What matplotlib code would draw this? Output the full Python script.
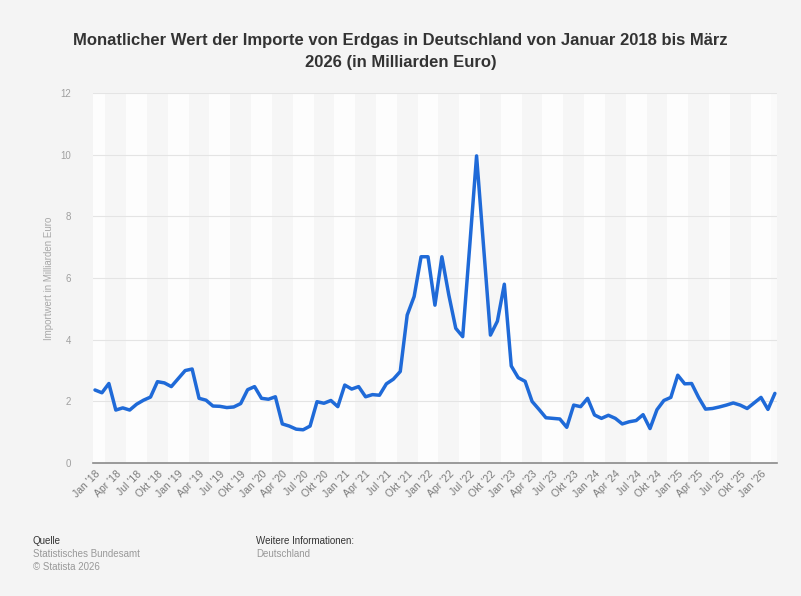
import matplotlib
matplotlib.use('Agg')
import matplotlib.pyplot as plt
import numpy as np

plt.rcParams['font.family'] = ['Liberation Sans', 'DejaVu Sans']

# ── Data: monthly import value of natural gas, Jan 2018 - Mar 2026 (bn EUR)
MONTHS = ["Jan", "Feb", "Mär", "Apr", "Mai", "Jun", "Jul", "Aug", "Sep", "Okt", "Nov", "Dez"]
YEARS = list(range(2018, 2027))
VALUES = [
    2.37, 2.28, 2.58, 1.72, 1.79, 1.72, 1.91, 2.04, 2.14, 2.64,
    2.60, 2.48, 2.74, 3.00, 3.05, 2.10, 2.04, 1.85, 1.84, 1.80,
    1.82, 1.93, 2.38, 2.48, 2.10, 2.07, 2.15, 1.27, 1.20, 1.10,
    1.08, 1.20, 1.99, 1.94, 2.03, 1.83, 2.53, 2.40, 2.48, 2.15,
    2.22, 2.20, 2.57, 2.72, 2.97, 4.80, 5.40, 6.69, 6.69, 5.12,
    6.69, 5.45, 4.37, 4.10, 7.00, 9.96, 7.05, 4.15, 4.60, 5.80,
    3.15, 2.77, 2.65, 2.00, 1.74, 1.47, 1.45, 1.43, 1.16, 1.88,
    1.83, 2.10, 1.56, 1.45, 1.55, 1.45, 1.27, 1.34, 1.38, 1.57,
    1.12, 1.73, 2.03, 2.13, 2.85, 2.57, 2.58, 2.13, 1.75, 1.77,
    1.82, 1.88, 1.95, 1.88, 1.77, 1.95, 2.13, 1.74, 2.26,
]
Y_TICKS = [0, 2, 4, 6, 8, 10, 12]

TITLE = ("Monatlicher Wert der Importe von Erdgas in Deutschland von Januar 2018 bis März\n"
         "2026 (in Milliarden Euro)")
Y_LABEL = "Importwert in Milliarden Euro"

BG = '#f4f4f4'
LINE_COLOR = '#1f6ad8'

x = np.arange(len(VALUES))
tick_pos = list(range(0, len(VALUES), 3))
tick_labels = []
for p in tick_pos:
    yr = YEARS[p // 12]
    tick_labels.append(f"{MONTHS[p % 12]} '{yr % 100:02d}")

fig = plt.figure(figsize=(8.01, 5.96), dpi=100, facecolor=BG)
ax = fig.add_axes([0.116, 0.223, 0.854, 0.621])
ax.set_facecolor('#fafafa')

# alternating vertical bands (very faint)
for k, p in enumerate(tick_pos):
    color = '#fdfdfd' if k % 2 == 0 else '#f6f6f6'
    ax.axvspan(p - 1.5, p + 1.5, color=color, lw=0, zorder=0)

for yt in Y_TICKS[1:]:
    ax.axhline(yt, color='#e4e4e4', lw=0.8, zorder=1)

ax.plot(x, VALUES, color=LINE_COLOR, lw=2.5, solid_joinstyle='round',
        solid_capstyle='round', zorder=3)

ax.set_xlim(-0.3, len(VALUES) - 0.7)
ax.set_ylim(0, 12)
ax.set_yticks(Y_TICKS)
ax.set_yticklabels([str(v) for v in Y_TICKS], color='#a0a0a0', fontsize=7)
ax.set_xticks(tick_pos)
ax.set_xticklabels(tick_labels, rotation=45, ha='right', rotation_mode='anchor',
                   color='#7a7a7a', fontsize=7.5)
ax.tick_params(axis='y', length=0, pad=16)
ax.tick_params(axis='x', length=0, pad=4)

for s in ['top', 'right', 'left']:
    ax.spines[s].set_visible(False)
ax.spines['bottom'].set_color('#8a8a8a')
ax.spines['bottom'].set_linewidth(1.2)

ax.set_ylabel(Y_LABEL, color='#a8a8a8', fontsize=7, labelpad=4)

fig.text(0.5, 0.945, TITLE, ha='center', va='top', fontsize=12, fontweight='bold',
         color='#333333', linespacing=1.6)

# footer
fig.text(0.041, 0.092, "Quelle", fontsize=7, color='#333333', va='center')
fig.text(0.041, 0.070, "Statistisches Bundesamt", fontsize=7, color='#999999', va='center')
fig.text(0.041, 0.048, "© Statista 2026", fontsize=7, color='#999999', va='center')
fig.text(0.320, 0.092, "Weitere Informationen:", fontsize=7, color='#333333', va='center')
fig.text(0.320, 0.070, "Deutschland", fontsize=7, color='#999999', va='center')

plt.savefig('out.png', dpi=100, facecolor=BG)
plt.close()
